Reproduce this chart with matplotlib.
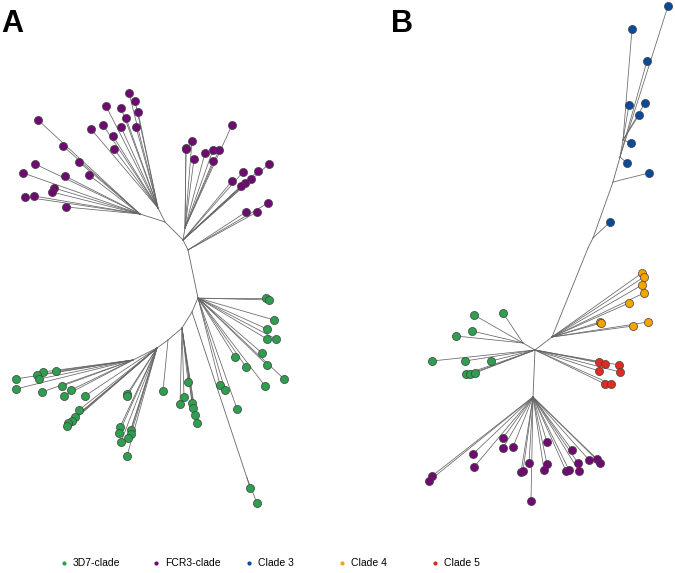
import matplotlib
matplotlib.use("Agg")
import matplotlib.pyplot as plt

# clade names and colours
clades = ["3D7-clade", "FCR3-clade", "Clade 3", "Clade 4", "Clade 5"]
colors = {"3D7-clade": "#2e9e4f", "FCR3-clade": "#6e0a70", "Clade 3": "#0a4a9a",
          "Clade 4": "#f7a400", "Clade 5": "#e02a22"}

# ---- panel A: internal nodes (name, x, y, parent) in image units
A_node_name = ["a0", "a1", "a2", "pl", "plu", "pll", "pr", "g1", "g2", "g3", "g4", "g5", "glong"]
A_node_x = [183, 188, 198, 165, 158, 140, 185, 192, 182, 168, 157, 133, 247]
A_node_y = [240, 250, 298, 222, 208, 214, 228, 312, 328, 340, 348, 360, 478]
A_node_parent = [None, "a0", "a1", "a0", "pl", "pl", "a0", "a2", "g1", "g2", "g3", "g4", "g1"]

# panel A tips: parent node -> list of (x, y), plus clade
A_tips = {
    ("plu", "FCR3-clade"): [(129, 93), (135, 101), (138, 112), (106, 106), (121, 108), (126, 118),
                            (103, 125), (91, 129), (121, 127), (136, 127), (113, 136), (114, 149)],
    ("pll", "FCR3-clade"): [(38, 120), (63, 146), (79, 162), (35, 164), (23, 173), (65, 176),
                            (89, 175), (54, 188), (52, 192), (25, 197), (34, 196), (66, 207)],
    ("pr", "FCR3-clade"): [(232, 125), (192, 141), (186, 148), (186, 149), (194, 159), (205, 153),
                           (213, 150), (219, 150), (213, 161)],
    ("a0", "FCR3-clade"): [(269, 164), (258, 171), (243, 172), (251, 179), (245, 183), (241, 186),
                           (232, 181)],
    ("a1", "FCR3-clade"): [(268, 203), (257, 212), (246, 212)],
    ("a2", "3D7-clade"): [(266, 298), (269, 300), (274, 320), (267, 329), (267, 339), (276, 339),
                          (262, 353), (235, 357), (246, 367), (267, 365), (284, 379), (265, 386),
                          (220, 385), (225, 390), (237, 409)],
    ("glong", "3D7-clade"): [(250, 488), (257, 503)],
    ("g2", "3D7-clade"): [(188, 382), (184, 397), (180, 404), (192, 403), (193, 408), (195, 415),
                          (197, 423)],
    ("g3", "3D7-clade"): [(163, 391)],
    ("g4", "3D7-clade"): [(127, 394), (127, 396), (120, 427), (119, 433), (131, 430), (131, 434),
                          (128, 438), (121, 442), (127, 456), (79, 410), (75, 417), (72, 421),
                          (68, 423), (67, 426), (85, 396)],
    ("g5", "3D7-clade"): [(64, 396), (71, 390), (62, 386), (42, 392), (56, 371), (43, 372),
                          (37, 375), (39, 379), (16, 379), (16, 389)],
}

# ---- panel B
B_node_name = ["b0", "b1", "b2", "c1", "c2", "c3", "c4", "bg", "bp"]
B_node_x = [535, 552, 588, 593, 613, 620, 623, 523, 533]
B_node_y = [350, 337, 248, 238, 182, 157, 140, 343, 397]
B_node_parent = [None, "b0", "b1", "b2", "c1", "c2", "c3", "b0", "b0"]

B_tips = {
    ("c1", "Clade 3"): [(610, 222)],
    ("c2", "Clade 3"): [(649, 173)],
    ("c3", "Clade 3"): [(627, 163), (647, 61), (668, 6)],
    ("c4", "Clade 3"): [(631, 143), (639, 115), (645, 103), (629, 105), (632, 29)],
    ("b1", "Clade 4"): [(642, 273), (644, 277), (642, 285), (644, 293), (629, 303), (600, 322),
                        (601, 323), (633, 326), (648, 322)],
    ("b0", "Clade 5"): [(599, 362), (605, 364), (619, 365), (599, 371), (620, 372), (605, 384),
                        (611, 384)],
    ("bg", "3D7-clade"): [(474, 315), (503, 313), (472, 331), (456, 336)],
    ("b0", "3D7-clade"): [(432, 361), (465, 361), (491, 361), (466, 374), (470, 374), (475, 373)],
    ("bp", "FCR3-clade"): [(503, 438), (503, 448), (513, 447), (473, 454), (474, 467), (432, 476),
                           (429, 481), (547, 442), (572, 450), (529, 463), (521, 472), (523, 471),
                           (547, 464), (544, 470), (578, 463), (566, 471), (569, 470), (579, 471),
                           (589, 460), (597, 459), (600, 463), (531, 501)],
}


def draw_tree(ax, names, xs, ys, parents, tips):
    pos = {n: (x, y) for n, x, y in zip(names, xs, ys)}
    for n, p in zip(names, parents):
        if p is not None:
            ax.plot([pos[p][0], pos[n][0]], [pos[p][1], pos[n][1]],
                    color="0.4", lw=0.6, zorder=1)
    for (p, clade), pts in tips.items():
        px, py = pos[p]
        for x, y in pts:
            ax.plot([px, x], [py, y], color="0.4", lw=0.55, zorder=1)
        ax.scatter([x for x, _ in pts], [y for _, y in pts], s=34,
                   color=colors[clade], edgecolor="0.25", linewidth=0.5, zorder=2)


fig = plt.figure(figsize=(6.75, 5.73), dpi=100)
ax = fig.add_axes([0, 0, 1, 1])
ax.set_xlim(0, 675)
ax.set_ylim(573, 0)
ax.axis("off")

draw_tree(ax, A_node_name, A_node_x, A_node_y, A_node_parent, A_tips)
draw_tree(ax, B_node_name, B_node_x, B_node_y, B_node_parent, B_tips)

ax.text(1, 24, "A", fontsize=22, fontweight="bold", family="Liberation Sans", va="center")
ax.text(391, 24, "B", fontsize=22, fontweight="bold", family="Liberation Sans", va="center")

# legend row along the bottom
leg_x = [64, 156, 249, 342, 435]
for lx, name in zip(leg_x, clades):
    ax.scatter([lx], [563], s=9, color=colors[name], linewidth=0, zorder=3)
    ax.text(lx + 9, 563, name, fontsize=7.5, family="Liberation Sans", va="center")

fig.savefig("out.png", dpi=100)
print("wrote out.png")
